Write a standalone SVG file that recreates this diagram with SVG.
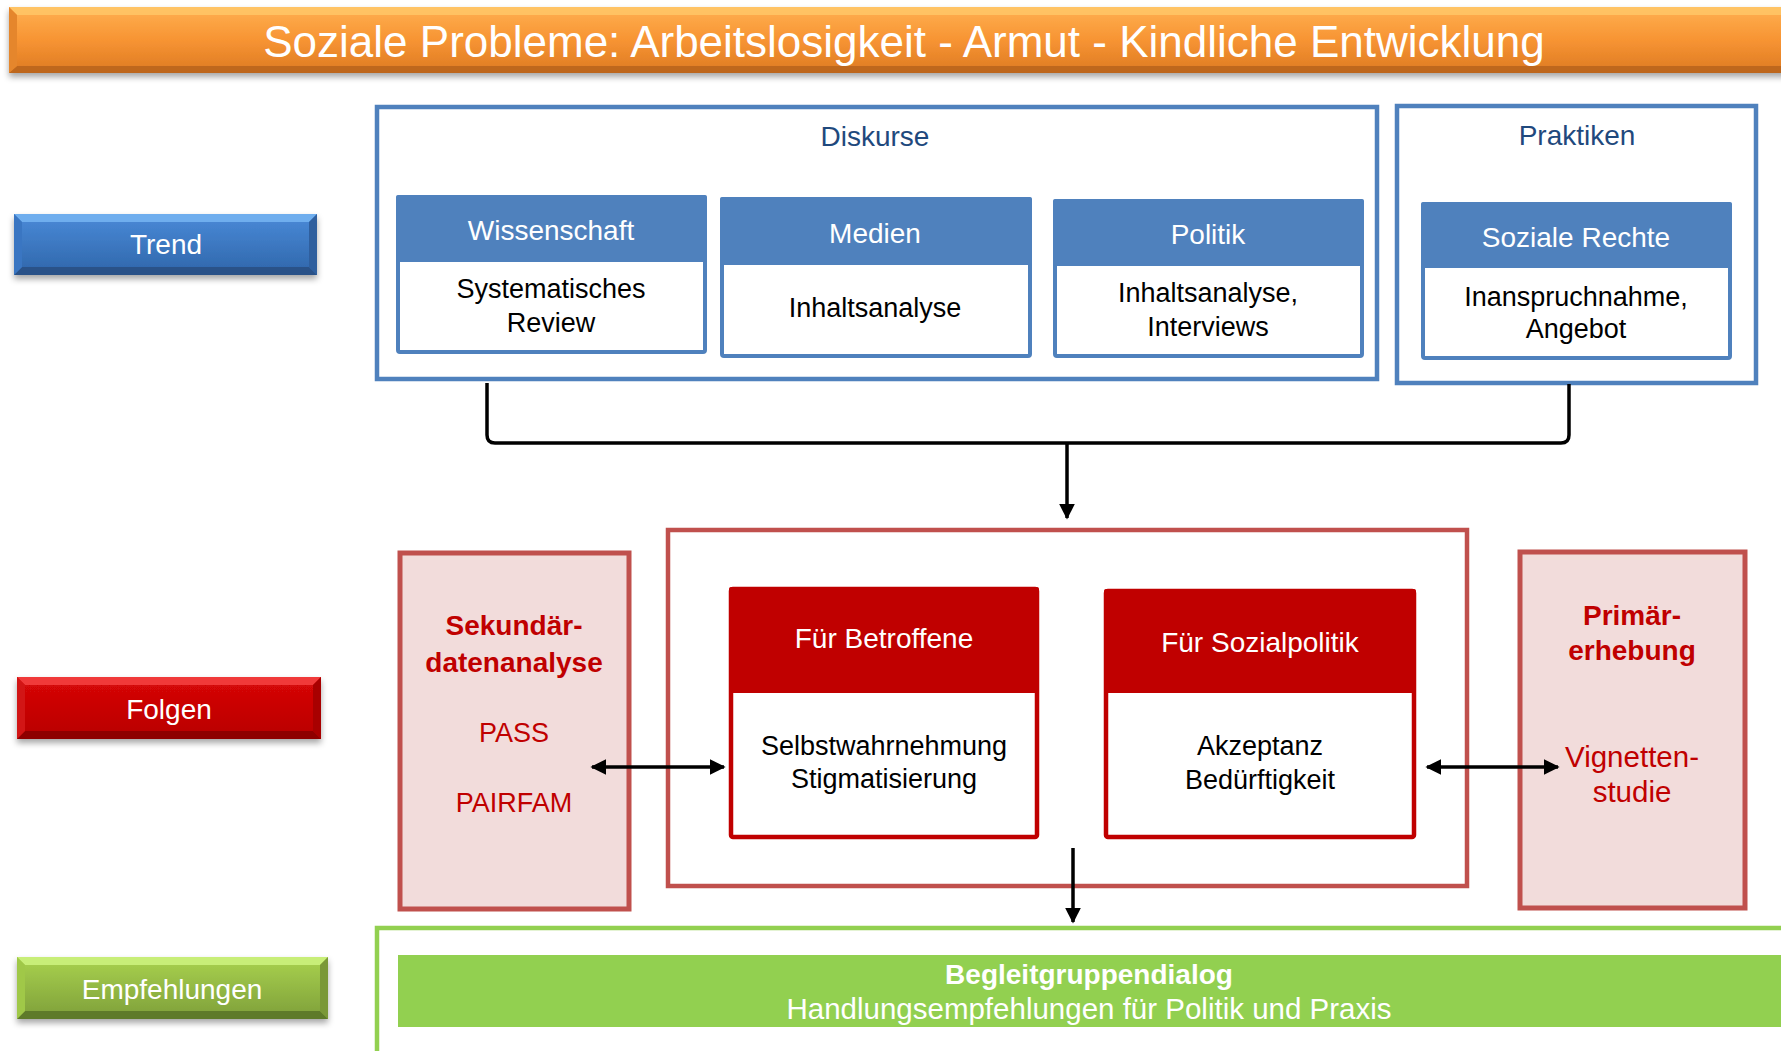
<svg xmlns="http://www.w3.org/2000/svg" width="1781" height="1051" viewBox="0 0 1781 1051">
<defs>
<style>
text{font-family:"Liberation Sans",Arial,sans-serif;text-anchor:middle}
.t{fill:#fff;font-size:44px}
.lab{fill:#fff;font-size:28px}
.hd{fill:#1F497D;font-size:28px}
.wh{fill:#fff;font-size:28px}
.bk{fill:#000;font-size:27px}
.rb{fill:#C00000;font-size:28px;font-weight:bold}
.rr{fill:#C00000;font-size:27px}
.rv{fill:#C00000;font-size:29.5px}
.gb{fill:#fff;font-size:28px;font-weight:bold}
.gr{fill:#fff;font-size:29.5px}
.bo{fill:none;stroke:#4F81BD;stroke-width:4.5}
.bi{fill:#fff;stroke:#4F81BD;stroke-width:4}
.bh{fill:#4F81BD}
.ro{fill:none;stroke:#C0504D;stroke-width:4.5}
.rs{fill:#F2DCDB;stroke:#C0504D;stroke-width:5}
.ri{fill:#fff;stroke:#C00000;stroke-width:4.5}
.rh{fill:#C00000}
.con{fill:none;stroke:#000;stroke-width:3.5}
</style>
<filter id="sh" x="-5%" y="-20%" width="110%" height="150%">
<feDropShadow dx="0" dy="4" stdDeviation="3" flood-color="#000" flood-opacity="0.35"/>
</filter>
<linearGradient id="gO" x1="0" y1="0" x2="0" y2="1">
<stop offset="0" stop-color="#FFB050"/><stop offset="0.5" stop-color="#F79433"/><stop offset="1" stop-color="#DD7A22"/>
</linearGradient>
<linearGradient id="gB" x1="0" y1="0" x2="0" y2="1">
<stop offset="0" stop-color="#4A8AD8"/><stop offset="1" stop-color="#2F66AA"/>
</linearGradient>
<linearGradient id="gR" x1="0" y1="0" x2="0" y2="1">
<stop offset="0" stop-color="#D80808"/><stop offset="1" stop-color="#B80000"/>
</linearGradient>
<linearGradient id="gG" x1="0" y1="0" x2="0" y2="1">
<stop offset="0" stop-color="#A9D24E"/><stop offset="1" stop-color="#7E9F3A"/>
</linearGradient>
<marker id="ah" viewBox="0 0 10 10" refX="9" refY="5" markerWidth="16" markerHeight="16" markerUnits="userSpaceOnUse" orient="auto-start-reverse">
<path d="M0,0 L10,5 L0,10 z" fill="#000"/>
</marker>
</defs>

<g id="title">
<rect x="9" y="7" width="1790" height="66" fill="url(#gO)" filter="url(#sh)"/>
<polygon points="9,7 1799,7 1791,15 17,15" fill="#FFC869" opacity="0.8"/>
<polygon points="9,73 1799,73 1791,66 17,66" fill="#B5621C" opacity="0.8"/>
<polygon points="9,7 17,15 17,66 9,73" fill="#E5862C"/>
<text class="t" x="904" y="57">Soziale Probleme: Arbeitslosigkeit - Armut - Kindliche Entwicklung</text>
</g>

<g id="trend">
<rect x="14" y="214" width="303" height="61" fill="url(#gB)" filter="url(#sh)"/>
<polygon points="14,214 317,214 309,222 22,222" fill="#6FAEEE"/>
<polygon points="14,275 317,275 309,267 22,267" fill="#2A5288"/>
<polygon points="14,214 22,222 22,267 14,275" fill="#3A76C2"/>
<polygon points="317,214 309,222 309,267 317,275" fill="#2F5F9E"/>
<text class="lab" x="166" y="254">Trend</text>
</g>

<g id="folgen">
<rect x="17" y="677" width="304" height="62" fill="url(#gR)" filter="url(#sh)"/>
<polygon points="17,677 321,677 313,685 25,685" fill="#F03A3A"/>
<polygon points="17,739 321,739 313,731 25,731" fill="#8E0000"/>
<polygon points="17,677 25,685 25,731 17,739" fill="#D21515"/>
<polygon points="321,677 313,685 313,731 321,739" fill="#A80000"/>
<text class="lab" x="169" y="719">Folgen</text>
</g>

<g id="empfehlungen">
<rect x="17" y="957" width="311" height="62" fill="url(#gG)" filter="url(#sh)"/>
<polygon points="17,957 328,957 320,965 25,965" fill="#C8EE78"/>
<polygon points="17,1019 328,1019 320,1011 25,1011" fill="#5E7A2A"/>
<polygon points="17,957 25,965 25,1011 17,1019" fill="#A0C848"/>
<polygon points="328,957 320,965 320,1011 328,1019" fill="#7A9838"/>
<text class="lab" x="172" y="999">Empfehlungen</text>
</g>

<g id="diskurse">
<rect class="bo" x="377" y="107" width="1000" height="272"/>
<text class="hd" x="875" y="146">Diskurse</text>
</g>

<g id="wissenschaft">
<rect class="bi" x="398" y="197" width="307" height="155" rx="2"/>
<rect class="bh" x="396" y="195" width="311" height="67" rx="2"/>
<text class="wh" x="551" y="240">Wissenschaft</text>
<text class="bk" x="551" y="298">Systematisches</text>
<text class="bk" x="551" y="332">Review</text>
</g>

<g id="medien">
<rect class="bi" x="722" y="199" width="308" height="157" rx="2"/>
<rect class="bh" x="720" y="197" width="312" height="68" rx="2"/>
<text class="wh" x="875" y="243">Medien</text>
<text class="bk" x="875" y="317">Inhaltsanalyse</text>
</g>

<g id="politik">
<rect class="bi" x="1055" y="201" width="307" height="155" rx="2"/>
<rect class="bh" x="1053" y="199" width="311" height="67" rx="2"/>
<text class="wh" x="1208" y="244">Politik</text>
<text class="bk" x="1208" y="302">Inhaltsanalyse,</text>
<text class="bk" x="1208" y="336">Interviews</text>
</g>

<g id="praktiken">
<rect class="bo" x="1397" y="106" width="359" height="277"/>
<text class="hd" x="1577" y="145">Praktiken</text>
</g>

<g id="soziale-rechte">
<rect class="bi" x="1423" y="204" width="307" height="154" rx="2"/>
<rect class="bh" x="1421" y="202" width="311" height="66" rx="2"/>
<text class="wh" x="1576" y="247">Soziale Rechte</text>
<text class="bk" x="1576" y="306">Inanspruchnahme,</text>
<text class="bk" x="1576" y="338">Angebot</text>
</g>

<g id="folgen-box">
<rect class="ro" x="668" y="530" width="799" height="356"/>
</g>

<g id="sekundaer">
<rect class="rs" x="400" y="553" width="229" height="356"/>
<text class="rb" x="514" y="635">Sekundär-</text>
<text class="rb" x="514" y="672">datenanalyse</text>
<text class="rr" x="514" y="742">PASS</text>
<text class="rr" x="514" y="812">PAIRFAM</text>
</g>

<g id="betroffene">
<rect class="ri" x="731" y="589" width="306" height="248" rx="2"/>
<rect class="rh" x="729" y="587" width="310" height="106" rx="2"/>
<text class="wh" x="884" y="648">Für Betroffene</text>
<text class="bk" x="884" y="755">Selbstwahrnehmung</text>
<text class="bk" x="884" y="788">Stigmatisierung</text>
</g>

<g id="sozialpolitik">
<rect class="ri" x="1106" y="591" width="308" height="246" rx="2"/>
<rect class="rh" x="1104" y="589" width="312" height="104" rx="2"/>
<text class="wh" x="1260" y="652">Für Sozialpolitik</text>
<text class="bk" x="1260" y="755">Akzeptanz</text>
<text class="bk" x="1260" y="789">Bedürftigkeit</text>
</g>

<g id="primaer">
<rect class="rs" x="1520" y="552" width="225" height="356"/>
<text class="rb" x="1632" y="625">Primär-</text>
<text class="rb" x="1632" y="660">erhebung</text>
<text class="rv" x="1632" y="767">Vignetten-</text>
<text class="rv" x="1632" y="802">studie</text>
</g>

<g id="begleitgruppe">
<rect x="377" y="928" width="1450" height="200" fill="none" stroke="#92D050" stroke-width="4.5"/>
<rect x="398" y="955" width="1400" height="72" fill="#92D050"/>
<text class="gb" x="1089" y="984">Begleitgruppendialog</text>
<text class="gr" x="1089" y="1019">Handlungsempfehlungen für Politik und Praxis</text>
</g>

<g id="connectors">
<path class="con" d="M487,383 L487,435 Q487,443 495,443 L1561,443 Q1569,443 1569,435 L1569,384"/>
<line class="con" x1="1067" y1="443" x2="1067" y2="518" marker-end="url(#ah)"/>
<line class="con" x1="592" y1="767" x2="724" y2="767" marker-start="url(#ah)" marker-end="url(#ah)"/>
<line class="con" x1="1427" y1="767" x2="1558" y2="767" marker-start="url(#ah)" marker-end="url(#ah)"/>
<line class="con" x1="1073" y1="848" x2="1073" y2="922" marker-end="url(#ah)"/>
</g>
</svg>
